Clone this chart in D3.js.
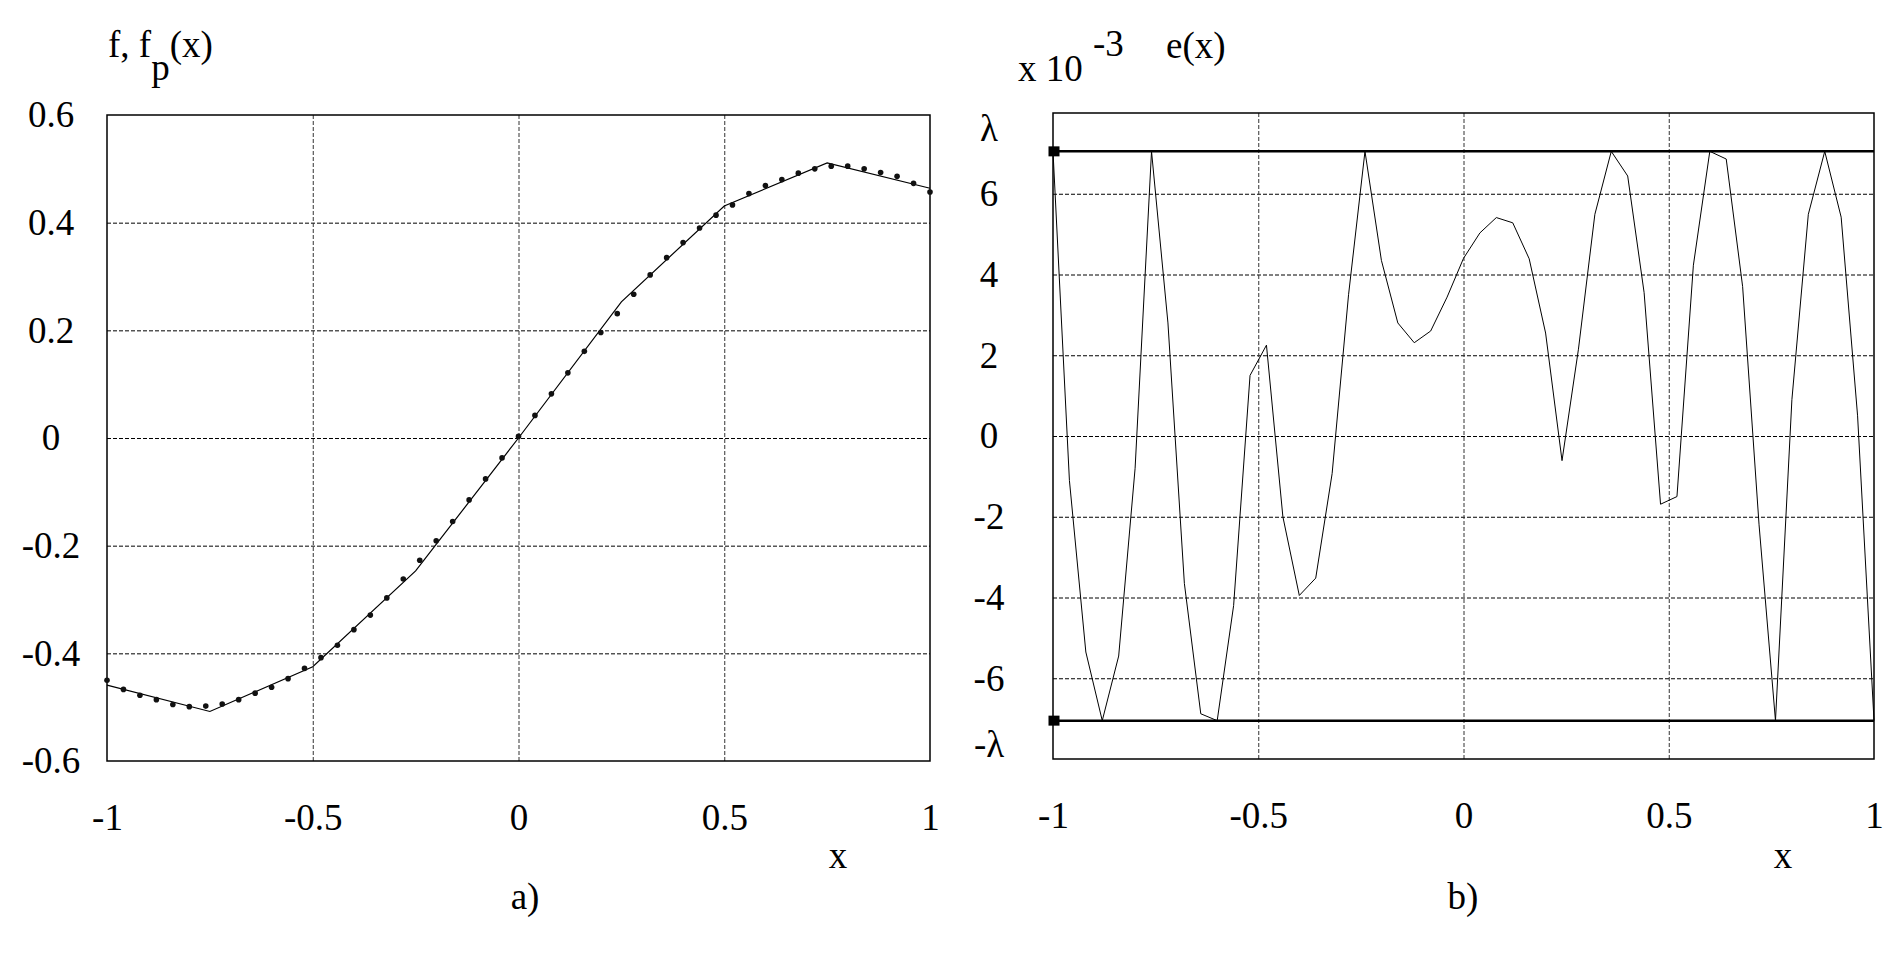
<!DOCTYPE html>
<html>
<head>
<meta charset="utf-8">
<script src="https://cdn.jsdelivr.net/npm/d3@7"></script>
<style>
    body { margin: 0; background: #fff; }
    svg { display: block; font-family: "Liberation Serif", "Times New Roman", serif; }
    .grid line { stroke: #000; stroke-width: 1; stroke-dasharray: 4,2; }
    .grid.vert line { stroke: #333; }
    .grid path { display: none; }
    .ticklabels path { display: none; }
    .ticklabels text { font-size: 37px; fill: #000; font-family: "Liberation Serif", "Times New Roman", serif; }
</style>
</head>
<body>
<svg id="chart" width="1891" height="966"></svg>
<script>
// sample points shared by both panels
const sampleX = [-1, -0.96, -0.92, -0.88, -0.84, -0.8, -0.76, -0.72, -0.68, -0.64,
    -0.6, -0.56, -0.52, -0.48, -0.44, -0.4, -0.36, -0.32, -0.28, -0.24,
    -0.2, -0.16, -0.12, -0.08, -0.04, 0, 0.04, 0.08, 0.12, 0.16,
    0.2, 0.24, 0.28, 0.32, 0.36, 0.4, 0.44, 0.48, 0.52, 0.56,
    0.6, 0.64, 0.68, 0.72, 0.76, 0.8, 0.84, 0.88, 0.92, 0.96, 1];

// panel a) : piecewise linear f and the approximation fp (dots)
const knotX = [-1, -0.75, -0.5, -0.25, 0, 0.25, 0.5, 0.75, 1];
const knotF = [-0.459, -0.508, -0.425, -0.247, 0, 0.253, 0.431, 0.511, 0.464];
const fpValues = [-0.450, -0.467, -0.478, -0.486, -0.495, -0.499, -0.498, -0.494, -0.486, -0.474,
    -0.463, -0.447, -0.428, -0.408, -0.385, -0.356, -0.329, -0.297, -0.262, -0.227,
    -0.191, -0.155, -0.115, -0.076, -0.037, 0.003, 0.042, 0.082, 0.121, 0.161,
    0.196, 0.231, 0.267, 0.303, 0.335, 0.363, 0.390, 0.414, 0.433, 0.454,
    0.469, 0.480, 0.492, 0.500, 0.505, 0.505, 0.500, 0.493, 0.486, 0.473, 0.457];

// panel b) : error e(x), in units of 1e-3
const eValues = [7.05, -1.1, -5.35, -7.05, -5.45, -0.8, 7.05, 2.8, -3.65, -6.88,
    -7.05, -4.2, 1.5, 2.25, -2.0, -3.95, -3.52, -0.93, 3.5, 7.05,
    4.35, 2.8, 2.31, 2.6, 3.44, 4.4, 5.03, 5.41, 5.28, 4.39,
    2.55, -0.61, 2.15, 5.49, 7.05, 6.44, 3.55, -1.69, -1.5, 4.23,
    7.05, 6.86, 3.7, -2.2, -7.05, 0.9, 5.49, 7.05, 5.42, 0.5, -7.05];
const lambda = 7.05;

// ticks
const xTicks = [-1, -0.5, 0, 0.5, 1];
const xGrid = [-0.5, 0, 0.5];
const fTicks = [-0.6, -0.4, -0.2, 0, 0.2, 0.4, 0.6];
const fGrid = [-0.4, -0.2, 0, 0.2, 0.4];
const eTicks = [-8, -6, -4, -2, 0, 2, 4, 6, 8];
const eGrid = [-6, -4, -2, 0, 2, 4, 6];

const svg = d3.select('#chart');

function drawPanel(box, yDomain, yGrid, yTicks, yFormat, labelX)
{
    let x = d3.scaleLinear().domain([-1, 1]).range([box.x0, box.x1]);
    let y = d3.scaleLinear().domain(yDomain).range([box.y1, box.y0]);
    let w = box.x1 - box.x0;
    let h = box.y1 - box.y0;

    svg.append('g').attr('class', 'grid')
        .attr('transform', `translate(${box.x0},0)`)
        .call(d3.axisLeft(y).tickValues(yGrid).tickSize(-w).tickFormat(''));

    svg.append('g').attr('class', 'grid vert')
        .attr('transform', `translate(0,${box.y1})`)
        .call(d3.axisBottom(x).tickValues(xGrid).tickSize(h).tickFormat(''))
        .selectAll('line').attr('y2', -h);

    svg.append('rect')
        .attr('x', box.x0).attr('y', box.y0)
        .attr('width', w).attr('height', h)
        .attr('fill', 'none').attr('stroke', '#000').attr('stroke-width', 1.5);

    // y labels, centred in a column left of the frame
    svg.append('g').attr('class', 'ticklabels')
        .attr('transform', `translate(${box.x0},0)`)
        .call(d3.axisLeft(y).tickValues(yTicks).tickSize(0).tickFormat(yFormat))
        .selectAll('text')
        .attr('text-anchor', 'middle')
        .attr('x', -labelX);

    svg.append('g').attr('class', 'ticklabels')
        .attr('transform', `translate(0,${box.y1})`)
        .call(d3.axisBottom(x).tickValues(xTicks).tickSize(0).tickFormat(d => String(d)))
        .selectAll('text')
        .attr('y', 69).attr('dy', 0);

    return {x: x, y: y};
}

function label(txt, x, y, anchor)
{
    return svg.append('text')
        .attr('x', x).attr('y', y)
        .attr('text-anchor', anchor || 'start')
        .attr('font-size', 37)
        .text(txt);
}

// ---- panel a)
let boxA = {x0: 107, x1: 930, y0: 115, y1: 761};
let a = drawPanel(boxA, [-0.6, 0.6], fGrid, fTicks, d => String(d), 56);

let fLine = d3.line().x(d => a.x(d[0])).y(d => a.y(d[1]));
svg.append('path')
    .datum(knotX.map((v, i) => [v, knotF[i]]))
    .attr('d', fLine)
    .attr('fill', 'none').attr('stroke', '#000').attr('stroke-width', 1.2);

svg.append('g').selectAll('circle')
    .data(sampleX.map((v, i) => [v, fpValues[i]]))
    .join('circle')
    .attr('cx', d => a.x(d[0])).attr('cy', d => a.y(d[1]))
    .attr('r', 2.8).attr('fill', '#111');

let titleA = label('f, f', 108, 57);
titleA.append('tspan').attr('dy', 23).text('p');
titleA.append('tspan').attr('dy', -23).text('(x)');
label('x', 838, 868, 'middle');
label('a)', 525, 909, 'middle');

// ---- panel b)
let boxB = {x0: 1053, x1: 1874, y0: 113, y1: 759};
let eFormat = d => d === 8 ? 'λ' : d === -8 ? '-λ' : String(d);
let b = drawPanel(boxB, [-8, 8], eGrid, eTicks, eFormat, 64);

// pull the lambda labels in from the frame corners
svg.selectAll('.ticklabels text')
    .filter(d => d === 8 || d === -8)
    .attr('y', d => d === 8 ? 16 : -14);

let eLine = d3.line().x(d => b.x(d[0])).y(d => b.y(d[1]));

[lambda, -lambda].forEach(l => {
    svg.append('path')
        .datum([[-1, l], [1, l]])
        .attr('d', eLine)
        .attr('stroke', '#000').attr('stroke-width', 2.5);
    svg.append('rect')
        .attr('x', b.x(-1) - 4.5).attr('y', b.y(l) - 5)
        .attr('width', 11).attr('height', 10)
        .attr('fill', '#000');
});

svg.append('path')
    .datum(sampleX.map((v, i) => [v, eValues[i]]))
    .attr('d', eLine)
    .attr('fill', 'none').attr('stroke', '#000').attr('stroke-width', 1);

label('x 10', 1018, 81);
label('-3', 1093, 56);
label('e(x)', 1166, 58);
label('x', 1783, 868, 'middle');
label('b)', 1463, 909, 'middle');
</script>
</body>
</html>
